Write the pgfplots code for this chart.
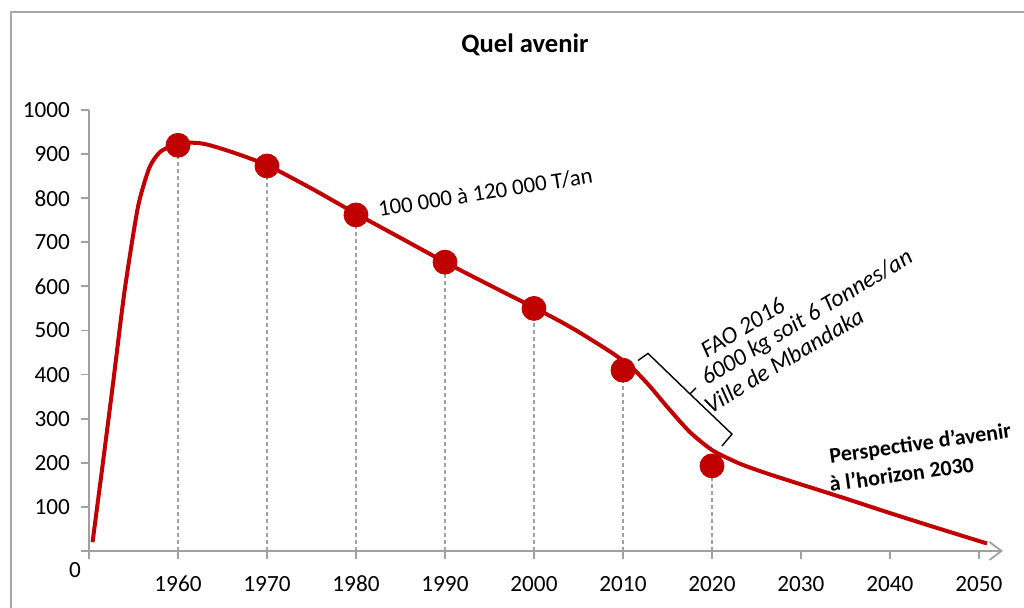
\documentclass[border=0pt]{standalone}
\usepackage{pgfplots}
\pgfplotsset{compat=1.18}
\usepackage{fontspec}
\setmainfont{Carlito}
\usetikzlibrary{arrows.meta}
\definecolor{cred}{HTML}{C00000}
\definecolor{axgray}{HTML}{A0A0A0}
\definecolor{framegray}{HTML}{A6A6A6}
\begin{document}
\begin{tikzpicture}
\useasboundingbox (0,0) rectangle (512pt,304pt);
\draw[framegray, line width=1.2pt] (5.5pt,0) -- (5.5pt,298pt) -- (512pt,298pt);
\begin{axis}[
  at={(44.5pt,28.5pt)}, anchor=south west,
  scale only axis, width=457pt, height=220.5pt,
  xmin=1950, xmax=2052.7, ymin=0, ymax=1000,
  clip=false,
  axis x line=bottom, axis y line=left,
  x axis line style={axgray, line width=0.9pt, -{Straight Barb[length=6pt,width=9pt,line width=0.9pt]}},
  y axis line style={axgray, line width=0.9pt, -},
  xtick={1950,1960,1970,1980,1990,2000,2010,2020,2030,2040,2050},
  xticklabels={,1960,1970,1980,1990,2000,2010,2020,2030,2040,2050},
  ytick={0,100,200,300,400,500,600,700,800,900,1000},
  yticklabels={,100,200,300,400,500,600,700,800,900,1000},
  tick align=outside, major tick length=4pt,
  tick style={axgray, line width=0.9pt},
  /pgf/number format/assume math mode=true,
  ticklabel style={font=\fontsize{11.6}{14}\selectfont, text=black},
  xticklabel style={yshift=-5pt},
  yticklabel style={xshift=-2pt},
]
\addplot[cred, line width=2pt, smooth, tension=0.4] coordinates {
(1950.4,20) (1951.5,190) (1952.7,380) (1954,590) (1955.5,780) (1956.8,870)
(1958,905) (1959.5,920) (1961,926) (1963,923) (1966,905) (1970,875)
(1975,822) (1980,765) (1985,710) (1990,655) (1995,603) (2000,552)
(2003,520) (2005,497) (2007,472) (2009,446) (2011,416) (2013,374)
(2015,326) (2017.5,270) (2020,229) (2023,199) (2026,177) (2030,151)
(2035,119) (2040,86) (2045,54) (2050.9,17)
};
\addplot[ycomb, axgray, line width=0.6pt, dash pattern=on 2pt off 1.5pt] coordinates {
(1960,920) (1970,873) (1980,762) (1990,655) (2000,550) (2010,410) (2020,193)
};
\addplot[only marks, mark=*, mark size=6pt, cred, mark options={draw=cred, fill=cred}] coordinates {
(1960,920) (1970,873) (1980,762) (1990,655) (2000,550) (2010,410) (2020,193)
};
\node[anchor=base west, rotate=9, inner sep=0pt, font=\fontsize{11.4}{13}\selectfont] at (axis cs:1982.6,758) {100 000 à 120 000 T/an};
\node[anchor=base west, rotate=31, inner sep=0pt, font=\fontsize{12}{14}\selectfont\itshape] at (axis cs:2019.4,437) {FAO 2016};
\node[anchor=base west, rotate=31, inner sep=0pt, font=\fontsize{12}{14}\selectfont\itshape] at (axis cs:2019.4,374) {6000 kg soit 6 Tonnes/an};
\node[anchor=base west, rotate=31, inner sep=0pt, font=\fontsize{12}{14}\selectfont\itshape] at (axis cs:2019.8,310) {Ville de Mbandaka};
\draw[black, line width=0.7pt] (axis cs:2011.69,432) -- (axis cs:2012.81,448) -- (axis cs:2017.53,356) -- (axis cs:2022.25,265) -- (axis cs:2021.12,238);
\draw[black, line width=0.7pt] (axis cs:2017.53,356) -- (axis cs:2018.2,370);
\node[anchor=base west, rotate=8, inner sep=0pt, font=\fontsize{11}{13}\selectfont\bfseries] at (axis cs:2033.3,199) {Perspective d’avenir};
\node[anchor=base west, rotate=8, inner sep=0pt, font=\fontsize{11}{13}\selectfont\bfseries] at (axis cs:2033.3,134) {à l’horizon 2030};
\end{axis}
\node[font=\fontsize{13.3}{16}\selectfont\bfseries] at (262.5pt,281.5pt) {Quel avenir};
\node[font=\fontsize{11.6}{14}\selectfont] at (37.5pt,19pt) {0};
\end{tikzpicture}
\end{document}
